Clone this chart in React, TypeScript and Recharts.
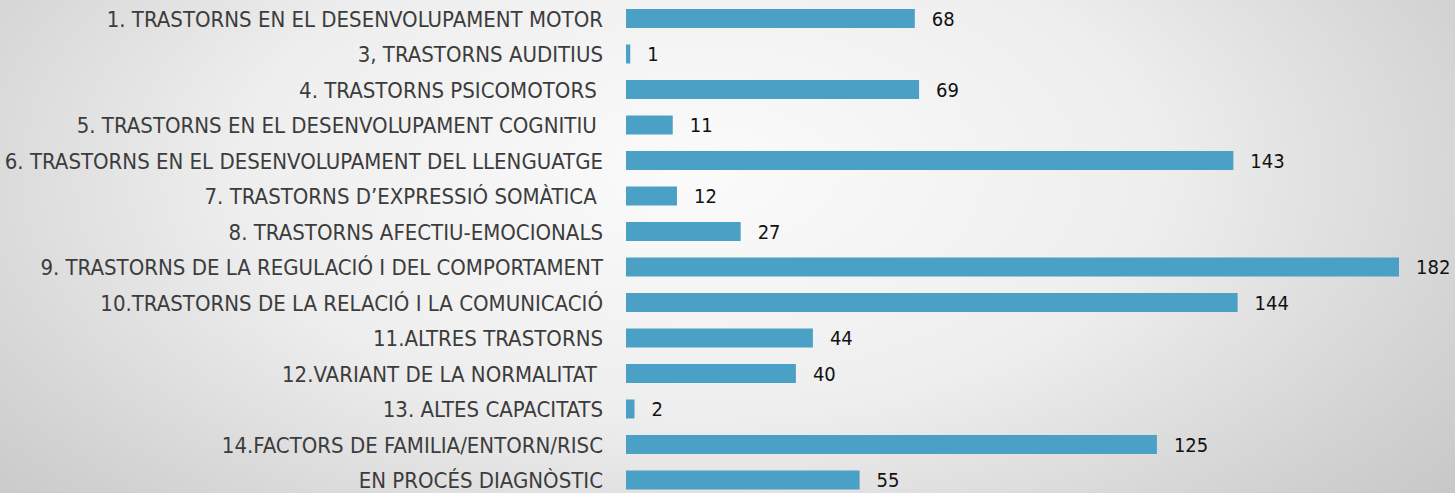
import React from 'react';
import { BarChart, Bar, XAxis, YAxis, LabelList } from 'recharts';

const categories = [
  '1. TRASTORNS EN EL DESENVOLUPAMENT MOTOR',
  '3, TRASTORNS AUDITIUS',
  '4. TRASTORNS PSICOMOTORS  ',
  '5. TRASTORNS EN EL DESENVOLUPAMENT COGNITIU ',
  '6. TRASTORNS EN EL DESENVOLUPAMENT DEL LLENGUATGE',
  '7. TRASTORNS D\u2019EXPRESSIÓ SOMÀTICA ',
  '8. TRASTORNS AFECTIU-EMOCIONALS',
  '9. TRASTORNS DE LA REGULACIÓ I DEL COMPORTAMENT',
  '10.TRASTORNS DE LA RELACIÓ I LA COMUNICACIÓ',
  '11.ALTRES TRASTORNS',
  '12.VARIANT DE LA NORMALITAT ',
  '13. ALTES CAPACITATS',
  '14.FACTORS DE FAMILIA/ENTORN/RISC',
  'EN PROCÉS DIAGNÒSTIC',
];

const values = [68, 1, 69, 11, 143, 12, 27, 182, 144, 44, 40, 2, 125, 55];

const data = categories.map((name, i) => ({ name, value: values[i] }));

const FONT = '"DejaVu Sans Condensed", sans-serif';

export default function App() {
  return (
    <div
      style={{
        position: 'absolute',
        left: 0,
        top: 0,
        width: 1455,
        height: 493,
        overflow: 'hidden',
        background:
          'radial-gradient(ellipse 70% 110% at 48% 35%, #fbfbfb 0%, #eeeeee 45%, #d2d2d2 80%, #c4c4c4 100%)',
      }}
    >
      <BarChart
        width={1455}
        height={498}
        data={data}
        layout="vertical"
        margin={{ top: 1, right: 56, bottom: 0, left: 0 }}
        barCategoryGap="46%"
      >
        <XAxis type="number" domain={[0, 182]} hide />
        <YAxis
          type="category"
          dataKey="name"
          width={626}
          axisLine={false}
          tickLine={false}
          tickSize={0}
          tickMargin={23}
          interval={0}
          tick={{ fill: '#3c3c3c', fontSize: 22, fontFamily: FONT, style: { whiteSpace: 'pre' } }}
        />
        <Bar dataKey="value" fill="#4aa0c5" barSize={19} isAnimationActive={false}>
          <LabelList
            dataKey="value"
            position="right"
            offset={17}
            style={{ fill: '#111111', fontSize: 20, fontFamily: FONT }}
          />
        </Bar>
      </BarChart>
    </div>
  );
}
